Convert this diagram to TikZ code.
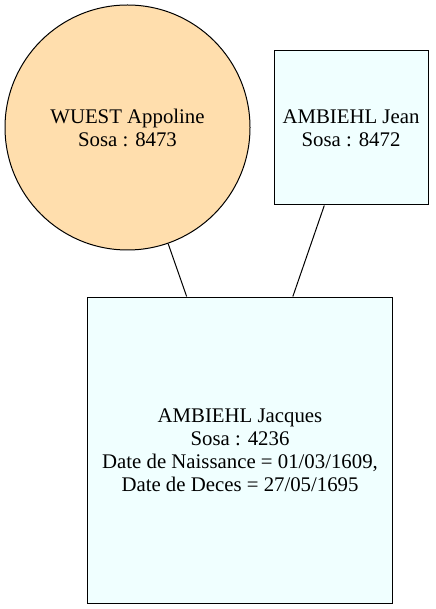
\documentclass[tikz,border=0pt]{standalone}
\usepackage{fontspec}
\setmainfont{Liberation Serif}
\definecolor{femme}{HTML}{FFDEAD}
\definecolor{homme}{HTML}{F0FFFF}
\tikzset{
    person/.style={draw=black, line width=0.75pt, align=center, inner sep=0pt,
        font=\fontsize{15.6}{17.3}\selectfont},
    lien/.style={draw=black, line width=0.75pt}
}
\begin{document}
\begin{tikzpicture}[x=0.75pt, y=-0.75pt]
    \useasboundingbox (0,0) rectangle (435,609);
    % Draw parents
    \node[person, circle, fill=femme, minimum size=183.75pt] (wuest) at (127.5,127.5)
        {WUEST Appoline\\Sosa : 8473};
    \node[person, rectangle, fill=homme, minimum width=115.5pt, minimum height=115.5pt] (jean) at (351,128)
        {AMBIEHL Jean\\Sosa : 8472};
    
    % Draw child
    \node[person, rectangle, fill=homme, minimum width=228.75pt, minimum height=229.5pt] (jacques) at (240,450)
        {AMBIEHL Jacques\\Sosa : 4236\\Date de Naissance = 01/03/1609,\\Date de Deces = 27/05/1695};
    
    % Draw links
    \draw[lien] (wuest) -- (jacques);
    \draw[lien] (jean) -- (jacques);
\end{tikzpicture}
\end{document}
